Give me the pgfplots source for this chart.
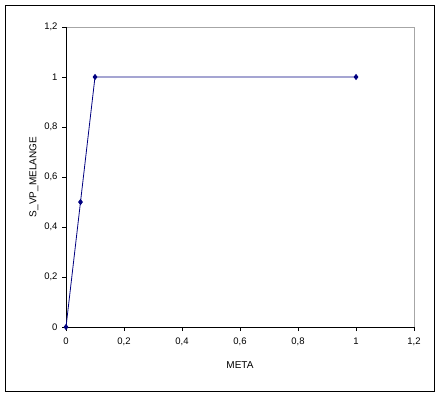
\documentclass[border=0pt]{standalone}
\usepackage{pgfplots}
\pgfplotsset{compat=1.18}
\usepackage{fontspec}
\setmainfont{Liberation Sans}
\definecolor{navyline}{RGB}{0,0,128}
\begin{document}
\begin{tikzpicture}
\path[use as bounding box] (0pt,0pt) rectangle (441pt,397pt);
\draw[black, line width=0.8pt] (5pt,6pt) rectangle (434pt,392pt);
\begin{axis}[
  at={(66pt,70pt)}, anchor=south west,
  scale only axis, width=348pt, height=300pt,
  xmin=0, xmax=1.2, ymin=0, ymax=1.2,
  xtick={0,0.2,...,1.2}, ytick={0,0.2,...,1.2},
  /pgf/number format/use comma,
  /pgf/number format/assume math mode=true,
  ticklabel style={font=\fontsize{9.5}{11}\selectfont},
  xticklabel style={yshift=-3pt},
  yticklabel style={xshift=-1pt},
  tick align=outside, tick pos=left,
  major tick length=4pt,
  tick style={black, line width=0.6pt},
  axis line style={draw=none},
  xlabel={META}, ylabel={S\_VP\_MELANGE},
  label style={font=\fontsize{10}{12}\selectfont},
  xlabel style={yshift=-9pt},
  ylabel style={yshift=-1pt},
  clip=false,
]
\draw[gray!70, line width=0.8pt] (axis cs:0,1.2) -- (axis cs:1.2,1.2) -- (axis cs:1.2,0);
\draw[black, line width=0.8pt] (axis cs:0,1.2) -- (axis cs:0,0) -- (axis cs:1.2,0);
\addplot[navyline, line width=0.8pt, mark=diamond*, mark size=2.5pt, mark options={fill=navyline, draw=navyline}]
  coordinates {(0,0) (0.05,0.5) (0.1,1) (1,1)};
\end{axis}
\end{tikzpicture}
\end{document}
